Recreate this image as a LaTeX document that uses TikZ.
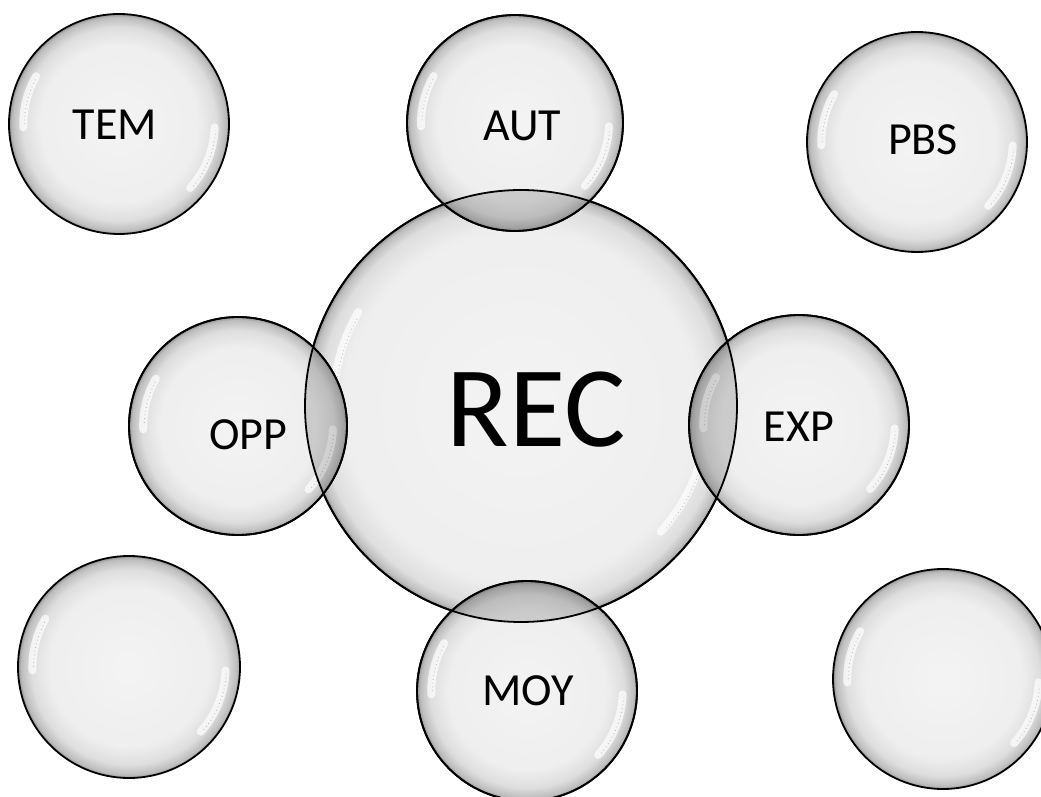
\documentclass[tikz,border=0pt]{standalone}
\usepackage{fontspec}
\setmainfont{Carlito}
\definecolor{bubA}{gray}{0.955}
\definecolor{bubB}{gray}{0.935}
\definecolor{bubC}{gray}{0.87}
\definecolor{bubD}{gray}{0.74}
\definecolor{bubE}{gray}{0.58}
\pgfdeclareradialshading{bubbleshade}{\pgfpoint{0bp}{0bp}}{color(0bp)=(bubA); color(18bp)=(bubB); color(22bp)=(bubC); color(24.3bp)=(bubD); color(25bp)=(bubE); color(50bp)=(bubE)}
\pgfdeclareradialshading{bigbubbleshade}{\pgfpoint{0bp}{0bp}}{color(0bp)=(bubA); color(20.5bp)=(bubB); color(23.4bp)=(bubC); color(24.6bp)=(bubD); color(25bp)=(bubE); color(50bp)=(bubE)}
\newcommand\bubshine[2]{%
  \draw[shine] (#1.center) ++(150:{0.87*#2}) arc[start angle=150, end angle=182, radius={0.87*#2}];
  \draw[speck] (#1.center) ++(152:{0.86*#2}) arc[start angle=152, end angle=180, radius={0.86*#2}];
  \draw[shine] (#1.center) ++(-42:{0.87*#2}) arc[start angle=-42, end angle=-2, radius={0.87*#2}];
  \draw[speck] (#1.center) ++(-40:{0.88*#2}) arc[start angle=-40, end angle=-4, radius={0.88*#2}];
}
\begin{document}
\begin{tikzpicture}[x=1pt,y=1pt,
  bubble/.style={circle, inner sep=0pt, outer sep=0pt, minimum size=#1, shading=bubbleshade, draw=black, line width=1.8pt},
  bigbubble/.style={bubble=#1, shading=bigbubbleshade},
  lbl/.style={inner sep=0pt, font=\fontsize{46}{50}\selectfont},
  biglbl/.style={inner sep=0pt, font=\fontsize{115}{120}\selectfont},
  rim/.style={draw=black, line width=1.8pt},
  lens/.style={fill=black, fill opacity=0.15},
  shine/.style={draw=white, line width=8pt, line cap=round, opacity=0.7},
  speck/.style={draw=gray, line width=0.9pt, dash pattern=on 0.8pt off 3pt, opacity=0.5}]
\useasboundingbox (0,0) rectangle (1041,796);

% central bubble
\node[bigbubble=432pt] (rec) at (521,390) {};
\bubshine{rec}{216}

% outer bubbles
\node[bubble=220pt] (tem) at (119,672) {};
\node[bubble=216pt] (aut) at (515,673) {};
\node[bubble=220pt] (pbs) at (917,654) {};
\node[bubble=218pt] (opp) at (238,370) {};
\node[bubble=220pt] (exp) at (799,371) {};
\node[bubble=222pt] (bl)  at (129,129) {};
\node[bubble=220pt] (moy) at (527,105) {};
\node[bubble=220pt] (br)  at (943,117) {};
\foreach \b/\r in {tem/110, aut/108, pbs/110, opp/109, exp/110, bl/111, moy/110, br/110}{
  \bubshine{\b}{\r}
}

% overlaps with the central bubble
\begin{scope}
  \clip (rec.center) circle[radius=216pt];
  \fill[lens] (aut.center) circle[radius=108pt];
  \fill[lens] (opp.center) circle[radius=109pt];
  \fill[lens] (exp.center) circle[radius=110pt];
  \fill[lens] (moy.center) circle[radius=110pt];
\end{scope}
\draw[rim] (rec.center) circle[radius=216pt];
\draw[rim] (aut.center) circle[radius=108pt];
\draw[rim] (opp.center) circle[radius=109pt];
\draw[rim] (exp.center) circle[radius=110pt];
\draw[rim] (moy.center) circle[radius=110pt];

% labels
\node[biglbl] (recL) at (536,386) {REC};
\node[lbl] (temL) at (115,671) {TEM};
\node[lbl] (autL) at (522,670) {AUT};
\node[lbl] (pbsL) at (923,656) {PBS};
\node[lbl] (oppL) at (248,361) {OPP};
\node[lbl] (expL) at (799,369) {EXP};
\node[lbl] (moyL) at (528,105) {MOY};
\end{tikzpicture}
\end{document}
